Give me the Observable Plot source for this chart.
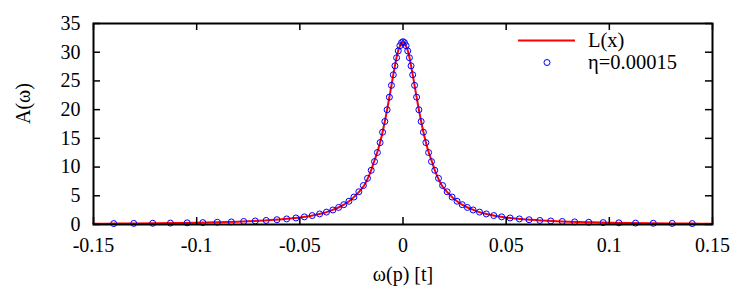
<!DOCTYPE html>
<html>
<head>
<meta charset="utf-8">
<script src="https://cdn.jsdelivr.net/npm/d3@7"></script>
<script src="https://cdn.jsdelivr.net/npm/@observablehq/plot@0.6"></script>
<style>
  body { margin: 0; background: #fff; }
  #chart { width: 747px; height: 287px; }
  #chart svg, #chart svg text { font-family: "Liberation Serif", "Times New Roman", Times, "DejaVu Serif", serif !important; }
</style>
</head>
<body>
<div id="chart"></div>
<script>
// ---- data ----
const omega = [
  -0.1402, -0.1305, -0.1213, -0.1127, -0.1046, -0.0970, -0.0900, -0.0832, -0.0772, -0.0716,
  -0.0663, -0.0611, -0.0564, -0.0519, -0.0478, -0.0440, -0.0404, -0.0371, -0.0340, -0.0312,
  -0.0287, -0.0262, -0.0238, -0.0214, -0.0192, -0.0172, -0.0154, -0.0138, -0.0124, -0.0111,
  -0.0099, -0.0088, -0.0077, -0.0066, -0.0056, -0.0047, -0.0039, -0.0031, -0.0023, -0.0015,
  -0.0007, 0,
  0.0007, 0.0015, 0.0023, 0.0031, 0.0039, 0.0047, 0.0056, 0.0066, 0.0077, 0.0088,
  0.0099, 0.0111, 0.0124, 0.0138, 0.0154, 0.0172, 0.0192, 0.0214, 0.0238, 0.0262,
  0.0287, 0.0312, 0.0340, 0.0371, 0.0404, 0.0440, 0.0478, 0.0519, 0.0564, 0.0611,
  0.0663, 0.0716, 0.0772, 0.0832, 0.0900, 0.0970, 0.1046, 0.1127, 0.1213, 0.1305, 0.1402
];
const spectral = [
  0.16, 0.19, 0.21, 0.25, 0.29, 0.33, 0.39, 0.45, 0.53, 0.61,
  0.71, 0.83, 0.97, 1.14, 1.33, 1.56, 1.84, 2.16, 2.53, 2.97,
  3.45, 4.05, 4.78, 5.70, 6.79, 8.04, 9.44, 10.96, 12.54, 14.26,
  16.07, 17.94, 19.98, 22.17, 24.23, 26.07, 27.63, 29.04, 30.23, 31.13,
  31.67, 31.83,
  31.67, 31.13, 30.23, 29.04, 27.63, 26.07, 24.23, 22.17, 19.98, 17.94,
  16.07, 14.26, 12.54, 10.96, 9.44, 8.04, 6.79, 5.70, 4.78, 4.05,
  3.45, 2.97, 2.53, 2.16, 1.84, 1.56, 1.33, 1.14, 0.97, 0.83,
  0.71, 0.61, 0.53, 0.45, 0.39, 0.33, 0.29, 0.25, 0.21, 0.19, 0.16
];
const curveX = [
  -0.15, -0.14, -0.13, -0.12, -0.11, -0.10, -0.09, -0.08, -0.07, -0.06,
  -0.05, -0.045, -0.04, -0.035, -0.03, -0.026, -0.022, -0.019, -0.016, -0.014,
  -0.012, -0.010, -0.008, -0.006, -0.004, -0.002, 0,
  0.002, 0.004, 0.006, 0.008, 0.010, 0.012, 0.014, 0.016, 0.019, 0.022,
  0.026, 0.03, 0.035, 0.04, 0.045, 0.05, 0.06, 0.07, 0.08, 0.09,
  0.10, 0.11, 0.12, 0.13, 0.14, 0.15
];
const curveY = [
  0.14, 0.16, 0.19, 0.22, 0.26, 0.32, 0.39, 0.49, 0.64, 0.86,
  1.22, 1.49, 1.87, 2.42, 3.18, 4.08, 5.42, 6.70, 8.91, 10.97,
  13.10, 15.92, 19.41, 23.40, 27.44, 30.61, 31.83,
  30.61, 27.44, 23.40, 19.41, 15.92, 13.10, 10.97, 8.91, 6.70, 5.42,
  4.08, 3.18, 2.42, 1.87, 1.49, 1.22, 0.86, 0.64, 0.49, 0.39,
  0.32, 0.26, 0.22, 0.19, 0.16, 0.14
];
const xTicks = [-0.15, -0.1, -0.05, 0, 0.05, 0.1, 0.15];
const xTickLabels = ["-0.15", "-0.1", "-0.05", "0", "0.05", "0.1", "0.15"];
const yTicks = [0, 5, 10, 15, 20, 25, 30, 35];
const yTickLabels = ["0", "5", "10", "15", "20", "25", "30", "35"];
const xLabel = "ω(p) [t]";
const yLabel = "A(ω)";
const seriesNames = ["L(x)", "η=0.00015"];

// ---- tables built from the arrays ----
const points = omega.map((x, i) => ({x, y: spectral[i]}));
const curve = curveX.map((x, i) => ({x, y: curveY[i]}));

const W = 747, H = 287, ML = 93, MR = 35, MT = 23, MB = 63;
const FW = W - ML - MR, FH = H - MT - MB;
const TICK = 7;
const FS = 20;
const font = "'Liberation Serif', 'Times New Roman', Times, 'DejaVu Serif', serif";

function legend(index, scales, values, dimensions) {
  const right = dimensions.width - dimensions.marginRight;
  const top = dimensions.marginTop;
  const g = d3.create("svg:g").attr("font-family", font).attr("font-size", 20.5)
    .attr("fill", "black").attr("text-anchor", "start");
  g.append("line")
    .attr("x1", right - 194).attr("x2", right - 137)
    .attr("y1", top + 17.5).attr("y2", top + 17.5)
    .attr("stroke", "#ff0000").attr("stroke-width", 2);
  g.append("circle")
    .attr("cx", right - 165).attr("cy", top + 39.5).attr("r", 3)
    .attr("fill", "none").attr("stroke", "#0000ff").attr("stroke-width", 1);
  g.append("text").attr("x", right - 124).attr("y", top + 17.5).attr("dy", "0.32em").text(seriesNames[0]);
  g.append("text").attr("x", right - 124).attr("y", top + 39.5).attr("dy", "0.32em").text(seriesNames[1]);
  return g.node();
}

const chart = Plot.plot({
  width: W, height: H,
  marginLeft: ML, marginRight: MR, marginTop: MT, marginBottom: MB,
  style: {fontFamily: font, fontSize: FS + "px", color: "black", background: "white"},
  x: {domain: [-0.15, 0.15]},
  y: {domain: [0, 35]},
  marks: [
    Plot.line(curve, {x: "x", y: "y", stroke: "#ff0000", strokeWidth: 2, curve: "catmull-rom"}),
    Plot.dot(points, {x: "x", y: "y", r: 3, stroke: "#0000ff", strokeWidth: 1, fill: "none"}),
    Plot.ruleX(xTicks, {x: d => d, insetTop: FH - TICK, stroke: "black", strokeWidth: 1.5}),
    Plot.ruleX(xTicks, {x: d => d, insetBottom: FH - TICK, stroke: "black", strokeWidth: 1.5}),
    Plot.ruleY(yTicks, {y: d => d, insetRight: FW - TICK, stroke: "black", strokeWidth: 1.5}),
    Plot.ruleY(yTicks, {y: d => d, insetLeft: FW - TICK, stroke: "black", strokeWidth: 1.5}),
    Plot.frame({stroke: "black", strokeWidth: 2}),
    Plot.axisX(xTicks, {anchor: "bottom", tickSize: 0, tickPadding: 13, label: null,
      tickFormat: d => xTickLabels[xTicks.indexOf(d)], fontSize: FS, fill: "black", fontFamily: font}),
    Plot.axisY(yTicks, {anchor: "left", tickSize: 0, tickPadding: 13, label: null,
      tickFormat: d => yTickLabels[yTicks.indexOf(d)], fontSize: FS, fill: "black", fontFamily: font}),
    Plot.text([xLabel], {frameAnchor: "bottom", dy: 50, text: d => d, fontSize: FS, fill: "black", lineAnchor: "middle", fontFamily: font}),
    Plot.text([yLabel], {frameAnchor: "left", dx: -70, text: d => d, rotate: -90, fontSize: FS, fill: "black", lineAnchor: "middle", fontFamily: font}),
    legend
  ]
});
document.getElementById("chart").appendChild(chart);
</script>
</body>
</html>
